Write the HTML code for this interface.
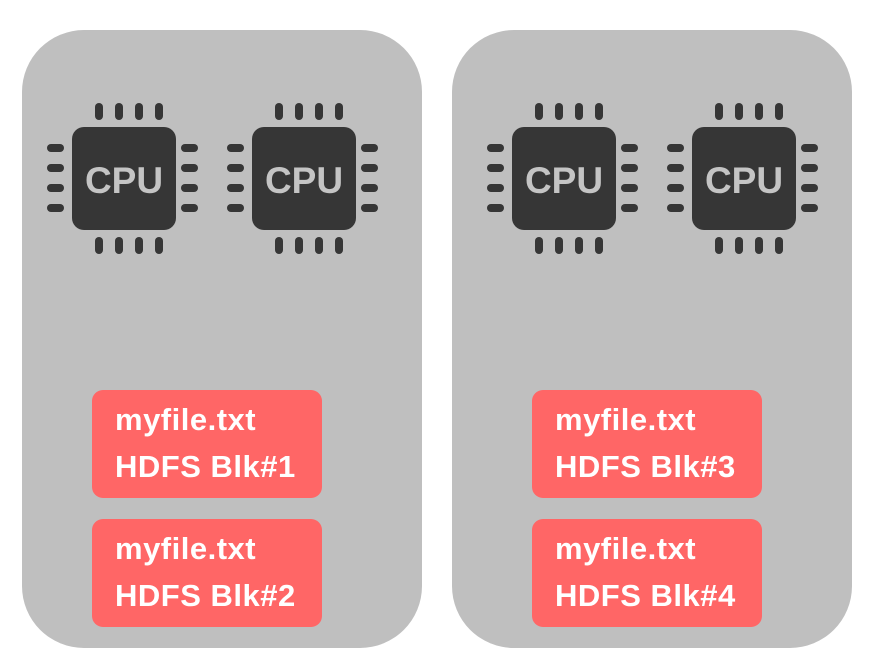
<!DOCTYPE html>
<html><head><style>
body{margin:0;width:872px;height:655px;background:#fff;position:relative;overflow:hidden;font-family:"Liberation Sans",sans-serif}
.node{position:absolute;top:30px;width:400px;height:618px;background:#bfbfbf;border-radius:62px}
.chip{position:absolute;width:160px;height:160px}
.body{position:absolute;left:25px;top:32px;width:104px;height:103px;background:#363636;border-radius:12px;color:#c4c4c4;font-weight:bold;font-size:37px;line-height:107px;text-align:center}
.p{position:absolute;background:#363636;border-radius:4px}
.v{width:8px;height:17px}.h{width:17px;height:8px}
.blk{position:absolute;width:230px;height:108px;background:#ff6666;border-radius:11px;color:#fff;font-weight:bold;font-size:31px;letter-spacing:0.5px;box-sizing:border-box;padding-left:23px;padding-top:6px;line-height:47px;white-space:nowrap}
</style></head><body>
<div class="node" style="left:22px"></div>
<div class="node" style="left:452px"></div>
<script>
const xs=[47,227,487,667];
let h='';
for(const x of xs){
 h+=`<div class="chip" style="left:${x}px;top:95px"><div class="body">CPU</div>`;
 for(const c of [52,72,92,112]){
  h+=`<div class="p v" style="left:${c-4}px;top:8px"></div><div class="p v" style="left:${c-4}px;top:142px"></div>`;
  h+=`<div class="p h" style="left:0px;top:${c+1-4}px"></div><div class="p h" style="left:134px;top:${c+1-4}px"></div>`;
 }
 h+='</div>';
}
document.write(h);
</script>
<div class="blk" style="left:92px;top:390px">myfile.txt<br>HDFS Blk#1</div>
<div class="blk" style="left:92px;top:519px">myfile.txt<br>HDFS Blk#2</div>
<div class="blk" style="left:532px;top:390px">myfile.txt<br>HDFS Blk#3</div>
<div class="blk" style="left:532px;top:519px">myfile.txt<br>HDFS Blk#4</div>
</body></html>
